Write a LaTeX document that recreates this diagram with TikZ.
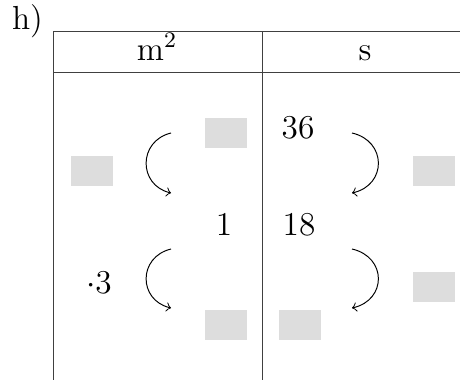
\documentclass[tikz,border=0pt]{standalone}
\begin{document}
\begin{tikzpicture}[x=0.36pt,y=-0.36pt,
  font=\fontsize{12}{14}\selectfont,
  rule/.style={line width=0.35pt,black!75},
  blank/.style={fill={rgb,255:red,221;green,221;blue,221},draw=none,minimum width=42*0.36pt,minimum height=30*0.36pt,inner sep=0pt,anchor=north west},
  lbl/.style={anchor=base,inner sep=0pt},
  arcarrow/.style={->,line width=0.35pt}]
\useasboundingbox (0,0) rectangle (460,380);
% table
\coordinate (tl) at (53.5,31);
\coordinate (tr) at (460,31);
\coordinate (hl) at (53.5,72);
\coordinate (hr) at (460,72);
\coordinate (bl) at (53.5,380);
\coordinate (mt) at (262,31);
\coordinate (mb) at (262,380);
\draw[rule] (tl) -- (tr);
\draw[rule] (hl) -- (hr);
\draw[rule] (tl) -- (bl);
\draw[rule] (mt) -- (mb);
% labels
\node[lbl] (h) at (27.5,29) {h)};
\node[lbl] (m) at (157,60) {$\mathrm{m}^2$};
\node[lbl] (s) at (365,60) {s};
\node[lbl] (n36) at (298,138) {36};
\node[lbl] (n1) at (224,235) {1};
\node[lbl] (n18) at (299,235) {18};
\node[lbl] (m3) at (99,293) {$\cdot 3$};
% blanks
\node[blank] (b1) at (204,117) {};
\node[blank] (b2) at (70,155) {};
\node[blank] (b3) at (412,155) {};
\node[blank] (b4) at (412,271) {};
\node[blank] (b5) at (204,309) {};
\node[blank] (b6) at (278,309) {};
% arcs
\coordinate (la1) at (171,133); \coordinate (la2) at (171,193);
\coordinate (lb1) at (171,249); \coordinate (lb2) at (171,308);
\coordinate (ra1) at (352,133); \coordinate (ra2) at (352,193);
\coordinate (rb1) at (352,249); \coordinate (rb2) at (352,308);
\draw[arcarrow] (la1) .. controls (138,141) and (138,185) .. (la2);
\draw[arcarrow] (lb1) .. controls (138,257) and (138,300) .. (lb2);
\draw[arcarrow] (ra1) .. controls (387,141) and (387,185) .. (ra2);
\draw[arcarrow] (rb1) .. controls (387,257) and (387,300) .. (rb2);
\end{tikzpicture}
\end{document}
